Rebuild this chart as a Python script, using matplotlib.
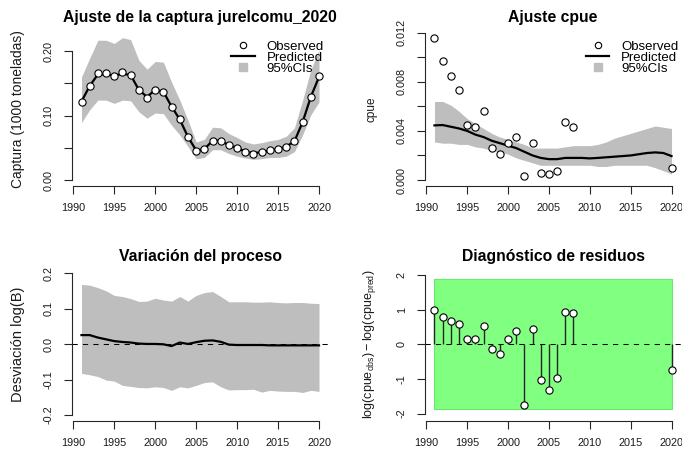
import numpy as np
import matplotlib
matplotlib.use('Agg')
from matplotlib import pyplot as plt
from matplotlib.lines import Line2D

plt.rcParams['font.family'] = ['Liberation Sans', 'DejaVu Sans']
plt.rcParams['mathtext.fontset'] = 'custom'
plt.rcParams['mathtext.rm'] = 'Liberation Sans'
plt.rcParams['mathtext.it'] = 'Liberation Sans:italic'
plt.rcParams['axes.unicode_minus'] = False

years = np.arange(1991, 2021)

# captura (1000 t)
catch_obs = [0.121, 0.146, 0.166, 0.166, 0.161, 0.168, 0.163, 0.140, 0.128, 0.140,
             0.137, 0.114, 0.094, 0.067, 0.0455, 0.048, 0.061, 0.061, 0.054, 0.050,
             0.044, 0.041, 0.043, 0.0465, 0.048, 0.052, 0.060, 0.090, 0.129, 0.161]
catch_pred = [0.122, 0.146, 0.164, 0.164, 0.162, 0.165, 0.163, 0.140, 0.129, 0.140,
              0.137, 0.114, 0.094, 0.067, 0.046, 0.048, 0.061, 0.061, 0.054, 0.050,
              0.044, 0.042, 0.043, 0.046, 0.048, 0.052, 0.060, 0.090, 0.129, 0.160]
catch_hi = [0.160, 0.189, 0.217, 0.217, 0.212, 0.221, 0.218, 0.186, 0.172, 0.184,
            0.183, 0.152, 0.124, 0.093, 0.059, 0.063, 0.082, 0.081, 0.072, 0.066,
            0.059, 0.056, 0.058, 0.061, 0.063, 0.068, 0.081, 0.124, 0.171, 0.202]
catch_lo = [0.089, 0.109, 0.124, 0.124, 0.119, 0.124, 0.123, 0.106, 0.096, 0.104,
            0.103, 0.085, 0.070, 0.052, 0.033, 0.035, 0.047, 0.047, 0.041, 0.037,
            0.034, 0.032, 0.033, 0.035, 0.035, 0.037, 0.044, 0.070, 0.101, 0.121]

# cpue
cpue_years = [1991, 1992, 1993, 1994, 1995, 1996, 1997, 1998, 1999, 2000,
              2001, 2002, 2003, 2004, 2005, 2006, 2007, 2008, 2020]
cpue_obs = [0.0116, 0.0097, 0.0085, 0.0073, 0.0045, 0.0043, 0.0056, 0.0026, 0.0021, 0.0030,
            0.0035, 0.00035, 0.0030, 0.0006, 0.0005, 0.0007, 0.0047, 0.0043, 0.00095]
cpue_pred = [0.00445, 0.00448, 0.00434, 0.0042, 0.0040, 0.0037, 0.0035, 0.0032, 0.0030, 0.0028,
             0.0026, 0.0023, 0.0020, 0.0018, 0.0017, 0.0017, 0.0018, 0.0018, 0.0018, 0.00176,
             0.0018, 0.00185, 0.0019, 0.00195, 0.0020, 0.0021, 0.0022, 0.00225, 0.0022, 0.00195]
cpue_hi = [0.0064, 0.0064, 0.0061, 0.0056, 0.0050, 0.0046, 0.0042, 0.0038, 0.0035, 0.0033,
           0.0031, 0.0029, 0.0026, 0.0026, 0.0026, 0.0026, 0.0027, 0.0028, 0.0028, 0.0028,
           0.0029, 0.0031, 0.0034, 0.0036, 0.0038, 0.0040, 0.0042, 0.0044, 0.0043, 0.0042]
cpue_lo = [0.0031, 0.0030, 0.0030, 0.0029, 0.0029, 0.0027, 0.0026, 0.0024, 0.0023, 0.0021,
           0.0018, 0.0016, 0.0014, 0.0012, 0.0012, 0.0012, 0.0012, 0.0012, 0.0012, 0.0012,
           0.0011, 0.0011, 0.0012, 0.0012, 0.0012, 0.0012, 0.0012, 0.0010, 0.00076, 0.0005]

# desviaciones del proceso log(B)
dev = [0.026, 0.026, 0.019, 0.014, 0.009, 0.0066, 0.005, 0.002, 0.001, 0.001,
       0.0, -0.005, 0.005, 0.001, 0.006, 0.010, 0.011, 0.007, -0.001, -0.002,
       -0.002, -0.002, -0.002, -0.003, -0.003, -0.003, -0.003, -0.003, -0.003, -0.003]
dev_hi = [0.169, 0.167, 0.160, 0.151, 0.138, 0.135, 0.129, 0.121, 0.122, 0.130,
          0.125, 0.122, 0.135, 0.122, 0.138, 0.146, 0.149, 0.135, 0.120, 0.120,
          0.120, 0.119, 0.119, 0.120, 0.118, 0.117, 0.118, 0.118, 0.116, 0.115]
dev_lo = [-0.082, -0.086, -0.091, -0.101, -0.104, -0.116, -0.119, -0.122, -0.123, -0.120,
          -0.122, -0.130, -0.120, -0.123, -0.116, -0.108, -0.106, -0.120, -0.129, -0.128,
          -0.128, -0.127, -0.135, -0.130, -0.132, -0.133, -0.133, -0.136, -0.130, -0.133]

# residuos log(cpue_obs) - log(cpue_pred)
resid = [0.98, 0.79, 0.67, 0.58, 0.14, 0.16, 0.53, -0.13, -0.28, 0.14,
         0.38, -1.75, 0.45, -1.04, -1.32, -0.97, 0.94, 0.89, -0.74]
resid_band = 1.88

W, H = 682, 453
fig = plt.figure(figsize=(W / 100, H / 100), dpi=100)

AX_COL = '#262626'
CI_COL = '#bebebe'


def px_axes(left, top, right, bottom):
    return fig.add_axes([left / W, 1 - bottom / H, (right - left) / W, (bottom - top) / H])


def r_style(ax, ylim, yticks, ylabels, ylab, ylab_x, ylab_size, title, tpad):
    ax.set_xlim(1989.84, 2021.16)
    ax.set_ylim(*ylim)
    ax.set_xticks(range(1990, 2021, 5))
    ax.set_yticks(yticks)
    ax.set_yticklabels(ylabels, rotation=90, va='center')
    for s in ['top', 'right']:
        ax.spines[s].set_visible(False)
    ax.spines['left'].set_bounds(yticks[0], yticks[-1])
    ax.spines['bottom'].set_bounds(1990, 2020)
    for s in ['left', 'bottom']:
        ax.spines[s].set_color(AX_COL)
        ax.spines[s].set_linewidth(0.8)
    ax.tick_params(axis='both', direction='out', length=6, width=0.8, color=AX_COL,
                   labelsize=7.8, labelcolor='#1a1a1a')
    ax.tick_params(axis='x', pad=6.5)
    ax.tick_params(axis='y', pad=7)
    ax.set_facecolor('none')
    ax.set_title(title, fontsize=11.3, fontweight='bold', pad=tpad)
    ax.set_ylabel(ylab, fontsize=ylab_size, color='#1a1a1a')
    l, _, w, _ = ax.get_position().bounds
    ax.yaxis.set_label_coords((ylab_x / W - l) / w, 0.5)
    ax.yaxis.label.set_verticalalignment('center')


def legend(ax, x_px, top_px):
    handles = [Line2D([], [], ls='none', marker='o', ms=4.6, mfc='white', mec='black', mew=0.8),
               Line2D([], [], color='black', lw=1.6),
               Line2D([], [], ls='none', marker='s', ms=6, mfc=CI_COL, mec=CI_COL)]
    ax.legend(handles, ['Observed', 'Predicted', '95%CIs'], loc='upper left',
              bbox_to_anchor=(x_px / W, 1 - top_px / H), bbox_transform=fig.transFigure,
              frameon=False, fontsize=9.5, handlelength=1.77, handletextpad=0.89,
              labelspacing=-0.08, borderpad=0, borderaxespad=0)


pt_kw = dict(ls='none', marker='o', ms=5.2, mfc='white', mec='black', mew=0.8, zorder=4)

# captura
ax1 = px_axes(72, 32, 328.5, 185.7)
ax1.fill_between(years, catch_lo, catch_hi, color=CI_COL, lw=0)
ax1.plot(years, catch_pred, color='black', lw=1.6)
ax1.plot(years, catch_obs, **pt_kw)
r_style(ax1, (-0.00884, 0.2298), [0, 0.05, 0.10, 0.15, 0.20], ['0.00', '', '0.10', '', '0.20'],
        'Captura (1000 toneladas)', 18, 10, 'Ajuste de la captura jurelcomu_2020', 7)
legend(ax1, 231.5, 40.5)

# cpue
ax2 = px_axes(425, 32, 681, 185.7)
ax2.fill_between(years, cpue_lo, cpue_hi, color=CI_COL, lw=0)
ax2.plot(years, cpue_pred, color='black', lw=1.6)
ax2.plot(cpue_years, cpue_obs, **pt_kw)
r_style(ax2, (-0.000464, 0.01206), [0, 0.002, 0.004, 0.006, 0.008, 0.010, 0.012],
        ['0.000', '', '0.004', '', '0.008', '', '0.012'], 'cpue', 372, 8.5, 'Ajuste cpue', 7)
legend(ax2, 586, 40.5)

# variacion del proceso
ax3 = px_axes(72, 267.8, 328.5, 420.8)
ax3.fill_between(years, dev_lo, dev_hi, color=CI_COL, lw=0)
ax3.plot(years, dev, color='black', lw=1.6)
ax3.axhline(0, color='black', lw=0.75, ls=(0, (5, 5)))
r_style(ax3, (-0.216, 0.216), [-0.2, -0.1, 0.0, 0.1, 0.2], ['-0.2', '-0.1', '0.0', '0.1', '0.2'],
        'Desviación log(B)', 18, 10.5, 'Variación del proceso', 5)

# diagnostico de residuos
ax4 = px_axes(425, 267.8, 681, 420.8)
ax4.fill_between([1991, 2020], -resid_band, resid_band, color='#80ff80', ec='#6be86b', lw=0.8)
ax4.axhline(0, color='black', lw=0.75, ls=(0, (5, 5)))
ax4.vlines(cpue_years, 0, resid, color='#262626', lw=1.0)
ax4.plot(cpue_years, resid, **pt_kw)
r_style(ax4, (-2.21, 2.21), [-2, -1, 0, 1, 2], ['-2', '-1', '0', '1', '2'],
        r'$\mathrm{log(cpue_{obs})} - \mathrm{log(cpue_{pred})}$', 369, 9,
        'Diagnóstico de residuos', 5)

fig.savefig('out.png', dpi=100)
